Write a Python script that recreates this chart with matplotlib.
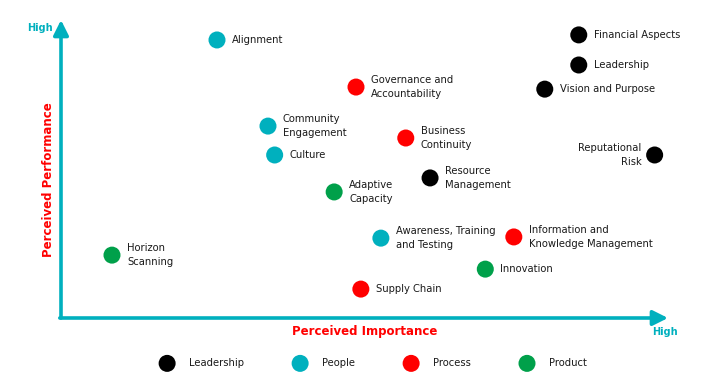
import matplotlib
matplotlib.use("Agg")
import matplotlib.pyplot as plt

# categories and colours
groups = ["Leadership", "People", "Process", "Product"]
group_colors = {"Leadership": "#000000", "People": "#00B0BE",
                "Process": "#FF0000", "Product": "#00A04A"}

# items: name, group, importance (x), performance (y)
names = ["Alignment", "Financial Aspects", "Leadership", "Vision and Purpose",
         "Governance and\nAccountability", "Community\nEngagement",
         "Business\nContinuity", "Culture", "Reputational\nRisk",
         "Resource\nManagement", "Adaptive\nCapacity",
         "Awareness, Training\nand Testing",
         "Information and\nKnowledge Management", "Horizon\nScanning",
         "Innovation", "Supply Chain"]
item_group = ["People", "Leadership", "Leadership", "Leadership",
              "Process", "People", "Process", "People", "Leadership",
              "Leadership", "Product", "People", "Process", "Product",
              "Product", "Process"]
importance = [25.7, 85.3, 85.3, 79.7, 48.6, 34.1, 56.8, 35.2, 97.8,
              60.8, 45.0, 52.7, 74.6, 8.4, 69.9, 49.4]
performance = [93.3, 95.0, 84.9, 76.8, 77.5, 64.4, 60.4, 54.7, 54.7,
               47.0, 42.3, 26.8, 27.2, 21.1, 16.4, 9.7]

axis_col = "#00B0BE"
txt_col = "#1a1a1a"
plt.rcParams['font.family'] = ['DejaVu Sans']

fig = plt.figure(figsize=(7.25, 3.84), dpi=100)
ax = fig.add_axes([61 / 725, 66 / 384, 607 / 725, 298 / 384])
ax.set_xlim(0, 100)
ax.set_ylim(0, 100)
ax.axis("off")

# axes with arrows
arrow = dict(arrowstyle="-|>,head_length=0.9,head_width=0.45", color=axis_col,
             lw=2.6, shrinkA=0, shrinkB=0)
ax.annotate("", xy=(0, 1.0), xytext=(0, 0), xycoords="axes fraction",
            arrowprops=arrow, annotation_clip=False)
ax.annotate("", xy=(1.0, 0), xytext=(-0.002, 0), xycoords="axes fraction",
            arrowprops=arrow, annotation_clip=False)

# points
for g in groups:
    xs = [x for x, gg in zip(importance, item_group) if gg == g]
    ys = [y for y, gg in zip(performance, item_group) if gg == g]
    ax.scatter(xs, ys, s=150, color=group_colors[g], edgecolors="none",
               label=g, zorder=3, clip_on=False)

for n, x, y in zip(names, importance, performance):
    if n.startswith("Reputational"):
        ax.annotate(n, (x, y), xytext=(-13, 0), textcoords="offset pixels",
                    ha="right", va="center", fontsize=7.2, linespacing=1.45,
                    color=txt_col)
    else:
        ax.annotate(n, (x, y), xytext=(15, 0), textcoords="offset pixels",
                    ha="left", va="center", fontsize=7.2, linespacing=1.45,
                    color=txt_col)

# axis titles
fig.text(365 / 725, 1 - 331 / 384, "Perceived Importance", color="red",
         fontsize=8.5, fontweight="bold", ha="center", va="center")
fig.text(49 / 725, 1 - 180 / 384, "Perceived Performance", color="red",
         fontsize=8.5, fontweight="bold", ha="center", va="center",
         rotation=90)
fig.text(665 / 725, 1 - 332 / 384, "High", color=axis_col, fontsize=7,
         fontweight="bold", ha="center", va="center")
fig.text(40 / 725, 1 - 28 / 384, "High", color=axis_col, fontsize=7,
         fontweight="bold", ha="center", va="center")

leg = ax.legend(loc="center", bbox_to_anchor=(372 / 725, 1 - 363 / 384),
                bbox_transform=fig.transFigure, ncol=4, frameon=False,
                fontsize=7.2, handletextpad=1.2, columnspacing=4.6,
                markerscale=1.0)
for t in leg.get_texts():
    t.set_color(txt_col)

fig.savefig("out.png", dpi=100)
